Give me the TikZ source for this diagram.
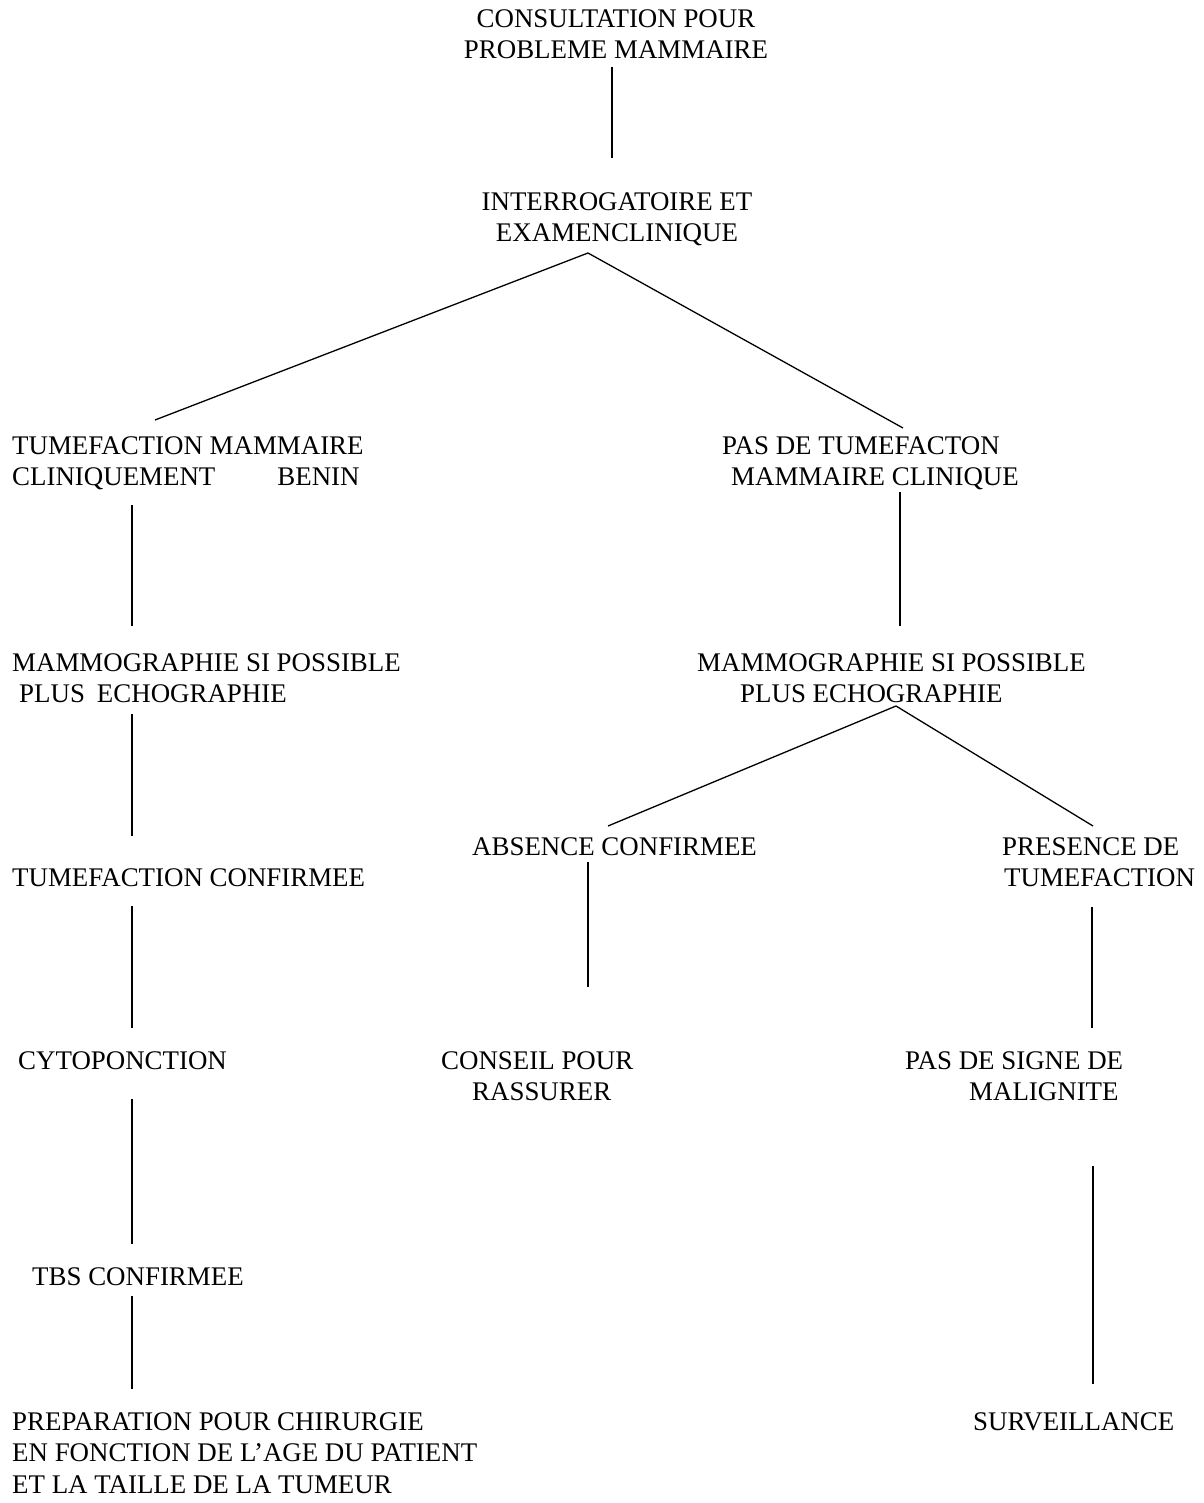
\documentclass[tikz,border=0pt]{standalone}
\usepackage{fontspec}
\setmainfont{Liberation Serif}
\begin{document}
\begin{tikzpicture}[x=1pt,y=-1pt,
  lbl/.style={inner sep=0pt, font=\fontsize{26.9}{31.3}\selectfont, anchor=west, align=left},
  lblc/.style={inner sep=0pt, font=\fontsize{26.9}{31.3}\selectfont, anchor=center, align=center},
  conn/.style={line width=1.3pt}]
\useasboundingbox (0,0) rectangle (1203,1503);
% nodes
\node[lblc] (consult) at (616,34) {CONSULTATION POUR\\PROBLEME MAMMAIRE};
\node[lblc] (interro) at (617,219.5) {INTERROGATOIRE ET\\EXAMENCLINIQUE};
\node[lbl] (tumef) at (12,463) {TUMEFACTION MAMMAIRE\\CLINIQUEMENT\hspace{62pt}BENIN};
\node[lbl] (pasde) at (722,463) {PAS DE TUMEFACTON\\\hspace{9pt}MAMMAIRE CLINIQUE};
\node[lbl] (mammoL) at (12,678.5) {MAMMOGRAPHIE SI POSSIBLE\\\hspace{7pt}PLUS\hspace{12pt}ECHOGRAPHIE};
\node[lbl] (mammoR) at (697,678.5) {MAMMOGRAPHIE SI POSSIBLE\\\hspace{43pt}PLUS ECHOGRAPHIE};
\node[lbl] (absence) at (472,847) {ABSENCE CONFIRMEE};
\node[lbl] (presence) at (1002,862.5) {PRESENCE DE\\\hspace{2pt}TUMEFACTION};
\node[lbl] (tumconf) at (12,878) {TUMEFACTION CONFIRMEE};
\node[lbl] (cyto) at (18,1061) {CYTOPONCTION};
\node[lbl] (conseil) at (441,1076.5) {CONSEIL POUR\\\hspace{31pt}RASSURER};
\node[lbl] (signe) at (905,1076.5) {PAS DE SIGNE DE\\\hspace{64pt}MALIGNITE};
\node[lbl] (tbs) at (32,1277) {TBS CONFIRMEE};
\node[lbl] (prep) at (12,1453) {PREPARATION POUR CHIRURGIE\\EN FONCTION DE L’AGE DU PATIENT\\ET LA TAILLE DE LA TUMEUR};
\node[lbl] (surv) at (973,1422) {SURVEILLANCE};
% connector end points
\coordinate (c1a) at (612,67);   \coordinate (c1b) at (612,158);
\coordinate (c2a) at (588,253);  \coordinate (c2b) at (155,420); \coordinate (c2c) at (903,428);
\coordinate (c3a) at (132,505);  \coordinate (c3b) at (132,626);
\coordinate (c4a) at (900,492);  \coordinate (c4b) at (900,626);
\coordinate (c5a) at (896,706);  \coordinate (c5b) at (608,826); \coordinate (c5c) at (1093,826);
\coordinate (c6a) at (132,714);  \coordinate (c6b) at (132,836);
\coordinate (c7a) at (588,862);  \coordinate (c7b) at (588,987);
\coordinate (c8a) at (1092,907); \coordinate (c8b) at (1092,1028);
\coordinate (c9a) at (132,906);  \coordinate (c9b) at (132,1028);
\coordinate (c10a) at (132,1099); \coordinate (c10b) at (132,1244);
\coordinate (c11a) at (1093,1166); \coordinate (c11b) at (1093,1384);
\coordinate (c12a) at (132,1296); \coordinate (c12b) at (132,1389);
% connectors
\draw[conn] (c1a) -- (c1b);
\draw[conn] (c2a) -- (c2b);
\draw[conn] (c2a) -- (c2c);
\draw[conn] (c3a) -- (c3b);
\draw[conn] (c4a) -- (c4b);
\draw[conn] (c5a) -- (c5b);
\draw[conn] (c5a) -- (c5c);
\draw[conn] (c6a) -- (c6b);
\draw[conn] (c7a) -- (c7b);
\draw[conn] (c8a) -- (c8b);
\draw[conn] (c9a) -- (c9b);
\draw[conn] (c10a) -- (c10b);
\draw[conn] (c11a) -- (c11b);
\draw[conn] (c12a) -- (c12b);
\end{tikzpicture}
\end{document}
